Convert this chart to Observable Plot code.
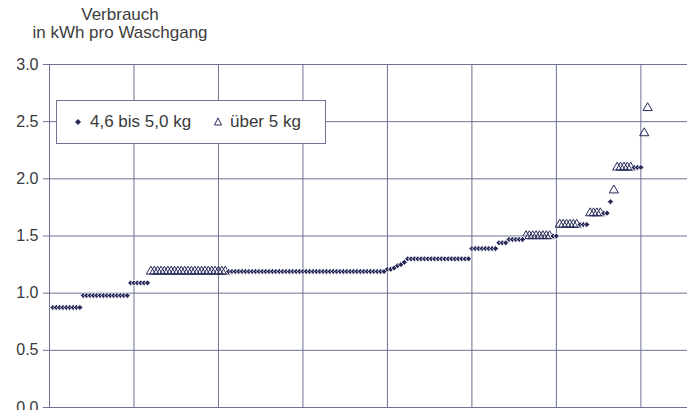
<!DOCTYPE html>
<html>
<head>
<meta charset="utf-8">
<script src="https://cdn.jsdelivr.net/npm/d3@7"></script>
<script src="https://cdn.jsdelivr.net/npm/@observablehq/plot@0.6"></script>
<style>
  html, body { margin: 0; padding: 0; background: #ffffff; overflow: hidden; }
  #wrap { position: relative; width: 687px; height: 410px; font-family: "Liberation Sans", Arial, Helvetica, sans-serif; color: #3a3a3a; }
  #title { position: absolute; left: 20px; top: 6px; width: 200px; text-align: center; font-size: 17px; line-height: 18px; color: #3d3d3d; }
  #legend { position: absolute; left: 56px; top: 100px; width: 268px; height: 42px; background: #fff; border: 1px solid #6d7194; box-sizing: content-box; font-size: 17px; color: #3a3a3a; }
  #legend .item { position: absolute; top: 11px; white-space: nowrap; }
  #legend svg { position: absolute; }
</style>
</head>
<body>
<div id="wrap">
  <div id="chart"></div>
  <div id="title">Verbrauch<br>in kWh pro Waschgang</div>
  <div id="legend"></div>
</div>
<script>
// Consumption values (kWh per wash), sorted ascending, one per machine
const verbrauch = [
  0.875,0.875,0.875,0.875,0.875,0.875,0.875,0.875,0.875,
  0.98,0.98,0.98,0.98,0.98,0.98,0.98,0.98,0.98,0.98,0.98,0.98,0.98,0.98,
  1.09,1.09,1.09,1.09,1.09,1.09,
  1.19,1.19,1.19,1.19,1.19,1.19,1.19,1.19,1.19,1.19,1.19,1.19,1.19,1.19,1.19,1.19,1.19,1.19,1.19,1.19,1.19,1.19,1.19,
  1.19,1.19,1.19,1.19,1.19,1.19,1.19,1.19,1.19,1.19,1.19,1.19,1.19,1.19,1.19,1.19,1.19,1.19,1.19,1.19,1.19,1.19,1.19,1.19,
  1.19,1.19,1.19,1.19,1.19,1.19,1.19,1.19,1.19,1.19,1.19,1.19,1.19,1.19,1.19,1.19,1.19,1.19,1.19,1.19,1.19,1.19,1.19,
  1.21,1.21,1.22,1.24,1.25,1.27,
  1.30,1.30,1.30,1.30,1.30,1.30,1.30,1.30,1.30,1.30,1.30,1.30,1.30,1.30,1.30,1.30,1.30,1.30,1.30,
  1.39,1.39,1.39,1.39,1.39,1.39,1.39,1.39,
  1.44,1.44,1.44,
  1.47,1.47,1.47,1.47,1.47,
  1.50,1.50,1.50,1.50,1.50,1.50,1.50,1.50,
  1.50,1.50,
  1.60,1.60,1.60,1.60,1.60,1.60,
  1.60,1.60,1.60,
  1.70,1.70,1.70,1.70,
  1.70,1.70,
  1.80,
  1.90,
  2.10,2.10,2.10,2.10,2.10,
  2.10,2.10,2.10,
  2.40,
  2.62
];
// Load class per machine: D = 4,6 bis 5,0 kg, T = über 5 kg (same order as verbrauch)
const klasse = (
  "DDDDDDDDD" +
  "DDDDDDDDDDDDDD" +
  "DDDDDD" +
  "TTTTTTTTTTTTTTTTTTTTTTT" +
  "DDDDDDDDDDDDDDDDDDDDDDDDDDDDDDDDDDDDDDDDDDDDDDD" +
  "DDDDDD" +
  "DDDDDDDDDDDDDDDDDDD" +
  "DDDDDDDD" +
  "DDD" +
  "DDDDD" +
  "TTTTTTTT" +
  "DD" +
  "TTTTTT" +
  "DDD" +
  "TTTT" +
  "DD" +
  "D" +
  "T" +
  "TTTTT" +
  "DDD" +
  "T" +
  "T"
).split("");
const legendLabels = ["4,6 bis 5,0 kg", "über 5 kg"];
const yTicks = [0, 0.5, 1, 1.5, 2, 2.5, 3];
const xGrid = [25, 50, 75, 100, 125, 150, 175];

const rows = verbrauch.map((v, i) => ({rang: i + 1, wert: v, klasse: klasse[i]}));
const navy = "#262958";
const gridColor = "#6d7194";

const chart = Plot.plot({
  width: 687,
  height: 410,
  marginLeft: 49,
  marginTop: 64,
  marginBottom: 3,
  marginRight: 0,
  style: {fontFamily: "'Liberation Sans', Arial, Helvetica, sans-serif", fontSize: "16px", color: "#3a3a3a", background: "#ffffff", overflow: "visible"},
  x: {domain: [0, 188.8], axis: null},
  y: {domain: [0, 3], axis: null},
  marks: [
    Plot.ruleX(xGrid, {stroke: gridColor, strokeWidth: 1}),
    Plot.ruleY(yTicks, {x1: -1.8, x2: 188.8, stroke: gridColor, strokeWidth: 1}),
    Plot.ruleX([0], {y1: 0, y2: 3, stroke: gridColor, strokeWidth: 1}),
    Plot.text(yTicks, {x: 0, y: d => d, text: d => d.toFixed(1), textAnchor: "end", dx: -11, fontSize: 16, fill: "#3a3a3a"}),
    Plot.dot(rows.filter(d => d.klasse === "T"), {x: "rang", y: "wert", symbol: "triangle", r: 3.4, fill: "none", stroke: navy, strokeWidth: 1}),
    Plot.dot(rows.filter(d => d.klasse === "D"), {x: "rang", y: "wert", symbol: "diamond2", r: 2.7, fill: navy, stroke: "#ffffff", strokeWidth: 0.8})
  ]
});
document.getElementById("chart").appendChild(chart);

// Legend
const legend = document.getElementById("legend");
legend.innerHTML =
  `<svg width="10" height="10" style="left:16px;top:16px"><path d="M5,2 L8,5 L5,8 L2,5 Z" fill="${navy}"/></svg>` +
  `<span class="item" style="left:33px">${legendLabels[0]}</span>` +
  `<svg width="12" height="12" style="left:155px;top:15px"><path d="M6,2 L9.5,9 L2.5,9 Z" fill="none" stroke="${navy}" stroke-width="1"/></svg>` +
  `<span class="item" style="left:173px">${legendLabels[1]}</span>`;
</script>
</body>
</html>
